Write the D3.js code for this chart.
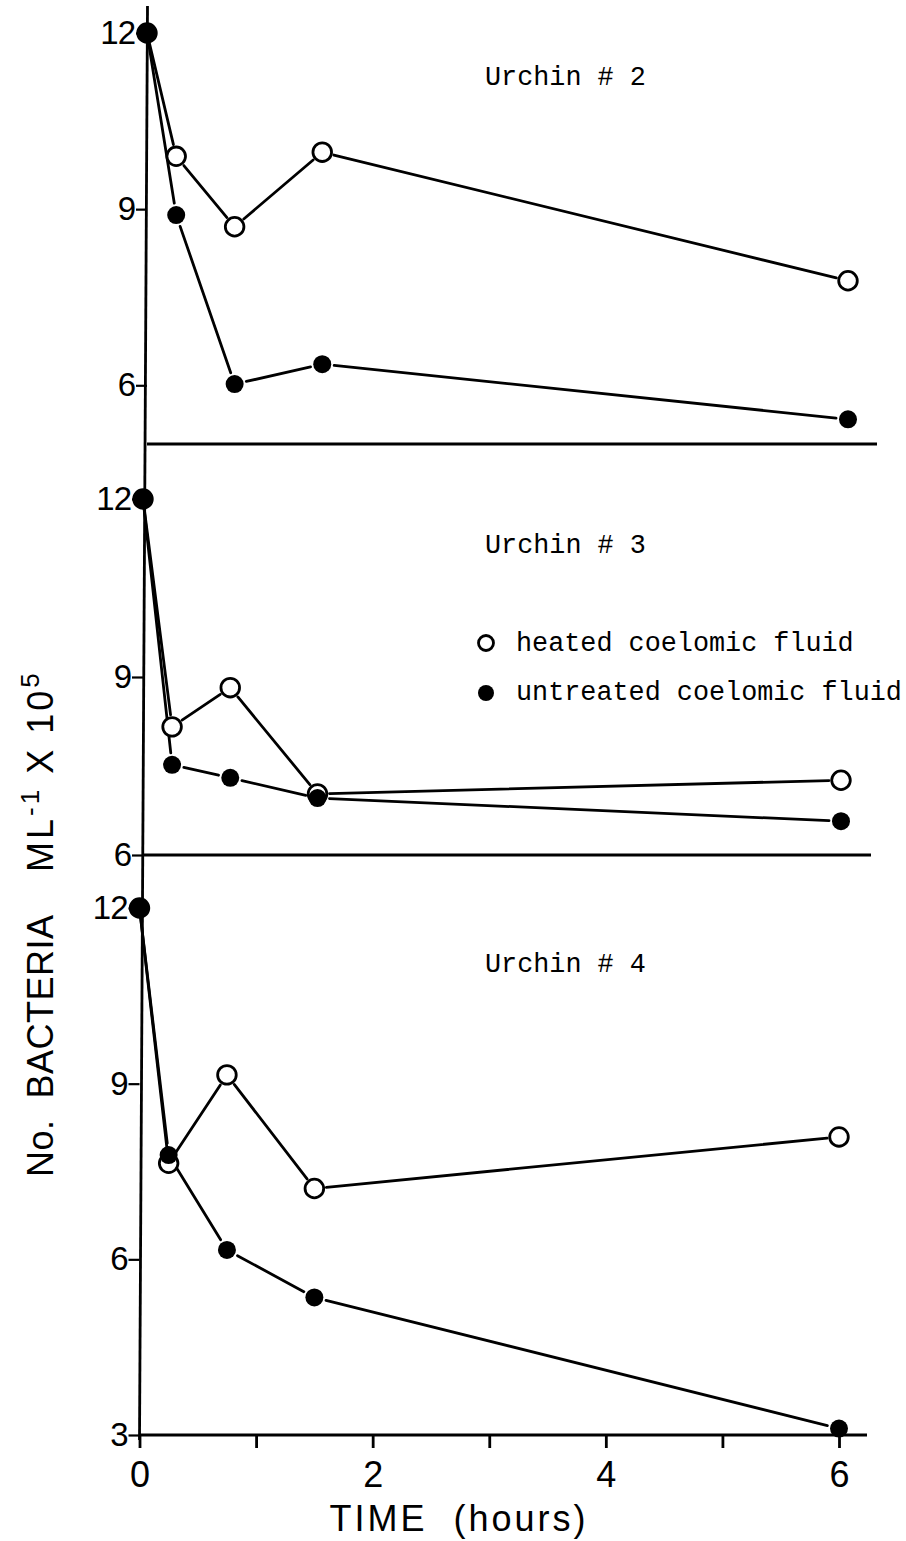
<!DOCTYPE html>
<html><head><meta charset="utf-8">
<script src="https://cdn.jsdelivr.net/npm/d3@7"></script>
<style>body{margin:0;background:#fff}svg{display:block}</style>
</head><body><svg id="c" width="906" height="1541"></svg>
<script>
// ---- data ----
const times = [0, 0.25, 0.75, 1.5, 6];
const panelTitles = ["Urchin # 2", "Urchin # 3", "Urchin # 4"];
const heated2 = [12, 9.90, 8.70, 9.97, 7.78];
const untreated2 = [12, 8.90, 6.02, 6.36, 5.42];
const heated3 = [12, 8.16, 8.82, 7.03, 7.26];
const untreated3 = [12, 7.52, 7.30, 6.96, 6.57];
const heated4 = [12, 7.64, 9.15, 7.21, 8.09];
const untreated4 = [12, 7.78, 6.16, 5.35, 3.11];
const yTicks2 = [6, 9, 12];
const yTicks3 = [6, 9, 12];
const yTicks4 = [3, 6, 9, 12];
const xTicks = [0, 1, 2, 3, 4, 5, 6];
const xTickLabels = [0, 2, 4, 6];
const legendLabels = ["heated coelomic fluid", "untreated coelomic fluid"];
const xTitle = "TIME  (hours)";

// ---- layout ----
const panels = [
  {title: panelTitles[0], heated: heated2, untreated: untreated2, ticks: yTicks2,
   yDom: [5, 12], yRng: [444, 33], xRng: [147, 848], baseEnd: 877, titleY: 85},
  {title: panelTitles[1], heated: heated3, untreated: untreated3, ticks: yTicks3,
   yDom: [6, 12], yRng: [855, 499], xRng: [143, 841], baseEnd: 871, titleY: 553},
  {title: panelTitles[2], heated: heated4, untreated: untreated4, ticks: yTicks4,
   yDom: [3, 12], yRng: [1435, 908], xRng: [139.5, 839], baseEnd: 867, titleY: 972}
];
const RO = 9.3, RF = 9, GAP = 12, SW = 2.8;
const svg = d3.select("#c");
const sans = "'Liberation Sans', Arial, Helvetica, sans-serif";
const mono = "'Liberation Mono', 'Courier New', monospace";

// main y axis (slightly slanted like the hand-drawn original)
svg.append("line")
  .attr("x1", 147.5).attr("y1", 6).attr("x2", 139.5).attr("y2", 1440)
  .attr("stroke", "#000").attr("stroke-width", SW);

panels.forEach((p, i) => {
  const x = d3.scaleLinear().domain([0, 6]).range(p.xRng);
  const y = d3.scaleLinear().domain(p.yDom).range(p.yRng);
  const g = svg.append("g");

  // baseline
  g.append("line").attr("x1", p.xRng[0]).attr("x2", p.baseEnd)
    .attr("y1", y(p.yDom[0])).attr("y2", y(p.yDom[0]))
    .attr("stroke", "#000").attr("stroke-width", SW);

  // y axis ticks + labels
  const ya = g.append("g").attr("transform", `translate(${p.xRng[0]},0)`)
    .call(d3.axisLeft(y).tickValues(p.ticks).tickSize(11).tickPadding(1).tickFormat(d3.format("d")));
  ya.select(".domain").remove();
  ya.selectAll(".tick line").attr("stroke-width", 2.2);
  ya.selectAll("text").attr("font-family", sans).attr("font-size", 33).attr("fill", "#000")
    .attr("letter-spacing", -1);

  // x axis on last panel
  if (i === 2) {
    const xa = g.append("g").attr("transform", `translate(0,${y(p.yDom[0])})`)
      .call(d3.axisBottom(x).tickValues(xTicks).tickSize(13).tickPadding(13)
        .tickFormat(d => xTickLabels.includes(d) ? d : ""));
    xa.select(".domain").remove();
    xa.selectAll(".tick line").attr("stroke-width", SW);
    xa.selectAll("text").attr("font-family", sans).attr("font-size", 36).attr("fill", "#000");
  }

  // connecting segments with gaps at markers
  [p.heated, p.untreated].forEach(series => {
    const pts = times.map((t, k) => [x(t), y(series[k])]);
    for (let k = 0; k < pts.length - 1; k++) {
      const [x1, y1] = pts[k], [x2, y2] = pts[k + 1];
      const dx = x2 - x1, dy = y2 - y1, L = Math.hypot(dx, dy);
      const s = k === 0 ? 6 : GAP;
      g.append("line")
        .attr("x1", x1 + dx / L * s).attr("y1", y1 + dy / L * s)
        .attr("x2", x2 - dx / L * GAP).attr("y2", y2 - dy / L * GAP)
        .attr("stroke", "#000").attr("stroke-width", SW).attr("stroke-linecap", "round");
    }
  });

  // markers
  g.selectAll(".h").data(times.map((t, k) => [t, p.heated[k]])).join("circle")
    .attr("cx", d => x(d[0])).attr("cy", d => y(d[1])).attr("r", RO)
    .attr("fill", "#fff").attr("stroke", "#000").attr("stroke-width", 2.8);
  g.selectAll(".u").data(times.map((t, k) => [t, p.untreated[k]])).join("circle")
    .attr("cx", d => x(d[0])).attr("cy", d => y(d[1])).attr("r", RF).attr("fill", "#000");

  // title
  g.append("text").attr("x", 485).attr("y", p.titleY).text(p.title)
    .attr("font-family", mono).attr("font-size", 26.8).attr("fill", "#000");
});

// legend
const lg = svg.append("g");
lg.append("circle").attr("cx", 486).attr("cy", 643).attr("r", 7.5)
  .attr("fill", "#fff").attr("stroke", "#000").attr("stroke-width", 2.8);
lg.append("circle").attr("cx", 486).attr("cy", 693).attr("r", 8).attr("fill", "#000");
lg.selectAll("text").data(legendLabels).join("text")
  .attr("x", 516).attr("y", (d, k) => 651 + k * 49).text(d => d)
  .attr("font-family", mono).attr("font-size", 26.8).attr("fill", "#000");

// x title
svg.append("text").attr("x", 459).attr("y", 1531).attr("text-anchor", "middle")
  .attr("font-family", sans).attr("font-size", 36).attr("letter-spacing", 3)
  .style("white-space", "pre").text(xTitle);

// y title
svg.append("text").attr("transform", "translate(53,1177) rotate(-90)")
  .attr("font-family", sans).attr("font-size", 36).attr("letter-spacing", 0.5)
  .style("white-space", "pre").text("No.  BACTERIA");
const yt2 = svg.append("text").attr("transform", "translate(53,872) rotate(-90)")
  .attr("font-family", sans).attr("font-size", 36).attr("letter-spacing", 3)
  .style("white-space", "pre");
yt2.append("tspan").text("ML");
yt2.append("tspan").attr("dy", -14).attr("font-size", 26).text("-1");
yt2.append("tspan").attr("dy", 14).text(" X 10");
yt2.append("tspan").attr("dy", -14).attr("font-size", 26).text("5");
</script></body></html>
